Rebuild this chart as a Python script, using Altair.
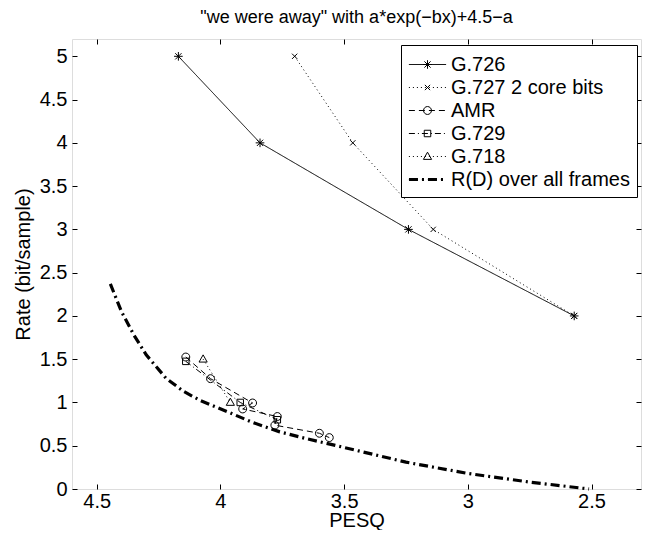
import altair as alt
import pandas as pd

FONT = "Liberation Sans"

series_names = ["G.726", "G.727 2 core bits", "AMR", "G.729", "G.718", "R(D) over all frames"]
marker_names = series_names[:5]
RD = "R(D) over all frames"

g726_pesq = [4.17, 3.84, 3.24, 2.57]
g726_rate = [5.0, 4.0, 3.0, 2.0]
g727_pesq = [3.70, 3.465, 3.14, 2.57]
g727_rate = [5.0, 4.0, 3.0, 2.0]
amr_pesq = [4.14, 4.04, 3.87, 3.91, 3.77, 3.78, 3.60, 3.56]
amr_rate = [1.525, 1.275, 0.994, 0.925, 0.8375, 0.7375, 0.644, 0.594]
g729_pesq = [4.14, 3.92, 3.77]
g729_rate = [1.475, 1.0, 0.80]
g718_pesq = [4.07, 3.96]
g718_rate = [1.5, 1.0]
rd_pesq = [4.445, 4.40, 4.35, 4.30, 4.22, 4.15, 4.08, 3.97, 3.87, 3.76, 3.65, 3.50, 3.25, 3.00, 2.75, 2.51]
rd_rate = [2.37, 2.05, 1.78, 1.55, 1.28, 1.13, 1.02, 0.89, 0.77, 0.66, 0.58, 0.48, 0.31, 0.18, 0.08, 0.0]

x_ticks = [4.5, 4.0, 3.5, 3.0, 2.5]
y_ticks = [0, 0.5, 1, 1.5, 2, 2.5, 3, 3.5, 4, 4.5, 5]

title_text = "\"we were away\" with a*exp(\u2212bx)+4.5\u2212a"

dash_range = [[1, 0], [1, 3], [6, 4], [6, 3, 1, 3], [1, 3], [9, 4, 2, 4]]
# thick overlay legend: only the R(D) entry is visible
thick_dash_range = [[0, 200], [0, 200], [0, 200], [0, 200], [0, 200], [9, 4, 2, 4]]
shape_range = [
    "M-0.36,0L0.36,0M0,-0.36L0,0.36M-0.26,-0.26L0.26,0.26M-0.26,0.26L0.26,-0.26",
    "M-0.22,-0.22L0.22,0.22M-0.22,0.22L0.22,-0.22",
    "M-0.33,0A0.33,0.33,0,1,1,0.33,0A0.33,0.33,0,1,1,-0.33,0Z",
    "M-0.27,-0.27H0.27V0.27H-0.27Z",
    "M0,-0.36L0.34,0.24H-0.34Z",
]

rows = []
for name, xs, ys in [
    ("G.726", g726_pesq, g726_rate),
    ("G.727 2 core bits", g727_pesq, g727_rate),
    ("AMR", amr_pesq, amr_rate),
    ("G.729", g729_pesq, g729_rate),
    ("G.718", g718_pesq, g718_rate),
    (RD, rd_pesq, rd_rate),
]:
    for i, (x, y) in enumerate(zip(xs, ys)):
        rows.append({"series": name, "marker": name, "thick": name, "pesq": x, "rate": y, "idx": i})
df = pd.DataFrame(rows)

xscale = alt.Scale(domain=[2.3, 4.6], reverse=True, nice=False, zero=False)
yscale = alt.Scale(domain=[0, 5.2], nice=False, zero=False)

common_legend = dict(
    orient="none", legendX=329, legendY=6, title=None,
    labelFont=FONT, labelFontSize=20, labelColor="black",
    padding=7, rowPadding=0, symbolOffset=7, labelOffset=11,
    labelLimit=400,
)

thin_lines = alt.Chart(df).mark_line(color="black", strokeWidth=1).encode(
    x=alt.X("pesq:Q", scale=xscale, title="PESQ",
            axis=alt.Axis(orient="bottom", values=x_ticks, format="~g", offset=-5, tickSize=5,
                          domain=False, labelPadding=2, titlePadding=-1, tickColor="black",
                          labelFont=FONT, labelFontSize=20, labelColor="black",
                          titleFont=FONT, titleFontSize=20, titleFontWeight="normal", titleColor="black",
                          grid=False)),
    y=alt.Y("rate:Q", scale=yscale, title="Rate (bit/sample)",
            axis=alt.Axis(orient="left", values=y_ticks, format="~g", offset=-5, tickSize=5,
                          domain=False, labelPadding=5, titlePadding=6, tickColor="black",
                          labelFont=FONT, labelFontSize=20, labelColor="black",
                          titleFont=FONT, titleFontSize=20, titleFontWeight="normal", titleColor="black",
                          grid=False)),
    strokeDash=alt.StrokeDash("series:N", scale=alt.Scale(domain=series_names, range=dash_range),
                              legend=alt.Legend(symbolType="M-1.55,0H1.55", symbolStrokeColor="black",
                                                symbolFillColor="transparent", symbolStrokeWidth=1,
                                                symbolSize=576,
                                                strokeColor="black", fillColor="white", zindex=1,
                                                **common_legend)),
    order=alt.Order("idx:Q"),
).transform_filter(alt.FieldOneOfPredicate(field="series", oneOf=marker_names))

thick_line = alt.Chart(df).mark_line(color="black", strokeWidth=3.2).encode(
    x=alt.X("pesq:Q", scale=xscale, axis=None),
    y=alt.Y("rate:Q", scale=yscale, axis=None),
    strokeDash=alt.StrokeDash("thick:N", scale=alt.Scale(domain=series_names, range=thick_dash_range),
                              legend=alt.Legend(symbolType="M-1.7,0H1.7", symbolStrokeColor="black",
                                                symbolFillColor="transparent", symbolStrokeWidth=3.2,
                                                symbolSize=475, labelOpacity=0, zindex=3,
                                                **common_legend)),
    order=alt.Order("idx:Q"),
).transform_filter(alt.FieldEqualPredicate(field="series", equal=RD))

points = alt.Chart(df).mark_point(filled=False, color="black", size=576, strokeWidth=1, opacity=1).encode(
    x=alt.X("pesq:Q", scale=xscale,
            axis=alt.Axis(orient="top", values=x_ticks, offset=-5, tickSize=5, domain=False,
                          labels=False, title=None, grid=False, tickColor="black")),
    y=alt.Y("rate:Q", scale=yscale,
            axis=alt.Axis(orient="right", values=y_ticks, offset=-5, tickSize=5, domain=False,
                          labels=False, title=None, grid=False, tickColor="black")),
    shape=alt.Shape("marker:N", scale=alt.Scale(domain=marker_names, range=shape_range),
                    legend=alt.Legend(symbolStrokeColor="black", symbolFillColor="transparent",
                                      symbolStrokeWidth=1, symbolSize=576, labelOpacity=0, zindex=2,
                                      **common_legend)),
).transform_filter(alt.FieldOneOfPredicate(field="series", oneOf=marker_names))

chart = alt.layer(thin_lines, thick_line, points).resolve_axis(
    x="independent", y="independent"
).resolve_scale(strokeDash="independent").resolve_legend(strokeDash="independent").properties(
    width=569, height=450,
    padding={"left": 64, "top": 31, "right": 2, "bottom": 41},
    autosize=alt.AutoSizeParams(type="none"),
    title=alt.TitleParams(title_text, font=FONT, fontSize=18, fontWeight="normal", color="black",
                          anchor="middle", offset=12),
).configure_view(stroke="black", strokeWidth=1).configure(background="white")

chart.save("out.html", embed_options={"renderer": "svg", "actions": False})
